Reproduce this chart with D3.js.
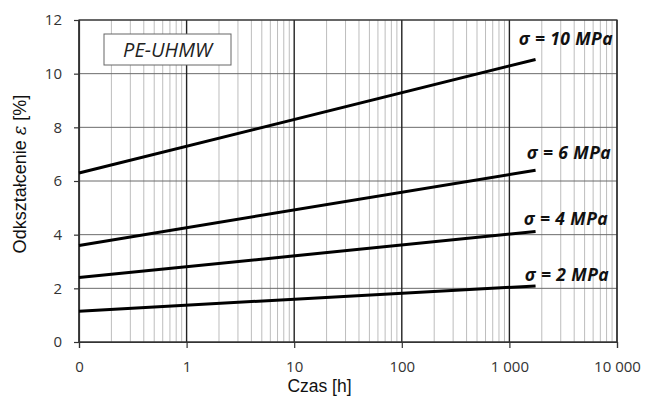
<!DOCTYPE html>
<html>
<head>
<meta charset="utf-8">
<script src="https://cdn.jsdelivr.net/npm/d3@7"></script>
<style>
  html, body { margin: 0; padding: 0; background: #fff; }
  svg { display: block; }
</style>
</head>
<body>
<div id="chart"></div>
<script>
// Creep strain of PE-UHMW vs. time at several stress levels (log time axis)
const timeTicks = [0.1, 1, 10, 100, 1000, 10000];
const timeTickLabels = ["0", "1", "10", "100", "1 000", "10 000"];
const strainTicks = [0, 2, 4, 6, 8, 10, 12];

const seriesNames = ["σ = 10 MPa", "σ = 6 MPa", "σ = 4 MPa", "σ = 2 MPa"];
const seriesTimes = [0.1, 1750];
const strain10 = [6.30, 10.53];
const strain6 = [3.60, 6.40];
const strain4 = [2.40, 4.12];
const strain2 = [1.15, 2.09];
const seriesValues = [strain10, strain6, strain4, strain2];

const W = 648, H = 401;
const margin = { left: 79, top: 20, right: 31, bottom: 59 };
const iw = W - margin.left - margin.right;
const ih = H - margin.top - margin.bottom;

const svg = d3.select("#chart").append("svg")
  .attr("width", W).attr("height", H);

const x = d3.scaleLog().domain([0.1, 10000]).range([margin.left, margin.left + iw]);
const y = d3.scaleLinear().domain([0, 12]).range([margin.top + ih, margin.top]);

const g = svg.append("g");

// minor vertical grid (2..9 within each decade)
const minor = [];
for (let d = 0.1; d < 10000; d *= 10) {
  for (let k = 2; k <= 9; k++) minor.push(d * k);
}
g.selectAll("line.minor").data(minor).join("line")
  .attr("x1", d => x(d)).attr("x2", d => x(d))
  .attr("y1", y(0)).attr("y2", y(12))
  .attr("stroke", "#bdbdbd").attr("stroke-width", 1);

// horizontal grid
g.selectAll("line.hgrid").data(strainTicks).join("line")
  .attr("x1", x(0.1)).attr("x2", x(10000))
  .attr("y1", d => y(d)).attr("y2", d => y(d))
  .attr("stroke", "#6b6b6b").attr("stroke-width", 1);

// major vertical grid (decades)
g.selectAll("line.major").data(timeTicks).join("line")
  .attr("x1", d => x(d)).attr("x2", d => x(d))
  .attr("y1", y(0)).attr("y2", y(12))
  .attr("stroke", "#222").attr("stroke-width", 1.4);

// frame
g.append("rect")
  .attr("x", x(0.1)).attr("y", y(12))
  .attr("width", x(10000) - x(0.1)).attr("height", y(0) - y(12))
  .attr("fill", "none").attr("stroke", "#333").attr("stroke-width", 1.2);

// axes
const xAxis = d3.axisBottom(x).tickValues(timeTicks)
  .tickFormat((d, i) => timeTickLabels[i]).tickSize(6).tickPadding(13);
const yAxis = d3.axisLeft(y).tickValues(strainTicks).tickSize(5).tickPadding(12);

const xa = svg.append("g").attr("transform", `translate(0,${y(0)})`).call(xAxis);
const ya = svg.append("g").attr("transform", `translate(${x(0.1)},0)`).call(yAxis);
[xa, ya].forEach(a => {
  a.select(".domain").attr("stroke", "#333").attr("stroke-width", 1.2);
  a.selectAll(".tick line").attr("stroke", "#333").attr("stroke-width", 1.2);
  a.selectAll("text").attr("fill", "#333")
    .style("font-family", "'Open Sans', sans-serif").style("font-size", "15px");
});

// creep curves
const line = d3.line().x(d => x(d[0])).y(d => y(d[1]));
svg.selectAll("path.curve").data(seriesValues).join("path")
  .attr("class", "curve")
  .attr("d", vals => line(seriesTimes.map((t, i) => [t, vals[i]])))
  .attr("fill", "none").attr("stroke", "#000").attr("stroke-width", 3);

// series labels
const labelPos = [
  { x: 613, v: 11.28 },
  { x: 611, v: 7.03 },
  { x: 608, v: 4.60 },
  { x: 609, v: 2.52 }
];
svg.selectAll("text.slabel").data(seriesNames).join("text")
  .attr("class", "slabel")
  .attr("x", (d, i) => labelPos[i].x)
  .attr("y", (d, i) => y(labelPos[i].v))
  .attr("dy", "0.35em")
  .attr("text-anchor", "end")
  .style("font-family", "'Open Sans', sans-serif")
  .style("font-size", "17.5px").style("font-weight", "bold").style("font-style", "italic")
  .style("letter-spacing", "0.4px")
  .attr("fill", "#111")
  .text(d => d);

// material box
svg.append("rect")
  .attr("x", 104).attr("y", 34).attr("width", 127).attr("height", 31)
  .attr("fill", "#fff").attr("stroke", "#666").attr("stroke-width", 1);
svg.append("text")
  .attr("x", 167.5).attr("y", 50).attr("dy", "0.35em")
  .attr("text-anchor", "middle")
  .style("font-family", "'Open Sans', sans-serif").style("font-size", "20px")
  .style("font-style", "italic").attr("fill", "#222")
  .text("PE-UHMW");

// axis titles
svg.append("text")
  .attr("x", 319.5).attr("y", 392)
  .attr("text-anchor", "middle")
  .style("font-family", "'Liberation Sans', Arial, sans-serif").style("font-size", "17.5px")
  .attr("fill", "#111")
  .text("Czas [h]");
const yt = svg.append("text")
  .attr("transform", "translate(26,174) rotate(-90)")
  .attr("text-anchor", "middle")
  .style("font-family", "'Liberation Sans', Arial, sans-serif").style("font-size", "18px")
  .attr("fill", "#111");
yt.append("tspan").text("Odkształcenie ");
yt.append("tspan").style("font-family", "'DejaVu Serif', serif").style("font-style", "italic").text("ε");
yt.append("tspan").text(" [%]");
</script>
</body>
</html>
